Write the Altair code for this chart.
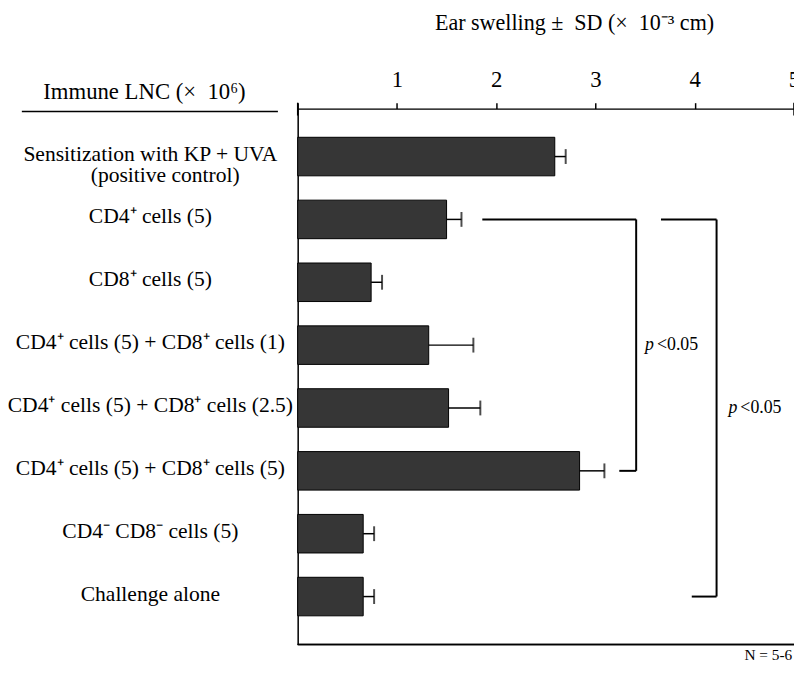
import altair as alt
import pandas as pd

# ---- data ----
labels = [
    "Sensitization with KP + UVA",
    "CD4⁺ cells (5)",
    "CD8⁺ cells (5)",
    "CD4⁺ cells (5) + CD8⁺ cells (1)",
    "CD4⁺ cells (5) + CD8⁺ cells (2.5)",
    "CD4⁺ cells (5) + CD8⁺ cells (5)",
    "CD4⁻ CD8⁻ cells (5)",
    "Challenge alone",
]
notes = ["(positive control)", "", "", "", "", "", "", ""]
means = [2.59, 1.50, 0.74, 1.32, 1.52, 2.84, 0.66, 0.66]
sds = [0.11, 0.15, 0.11, 0.45, 0.32, 0.25, 0.11, 0.11]
tick_values = [0, 1, 2, 3, 4, 5]

# significance brackets (axis units, category rows)
br_x = [1.86, 3.41, 3.24, 3.66, 4.22, 3.97]
br_x2 = [3.41, 3.41, 3.41, 4.22, 4.22, 4.22]
br_y = [labels[1], labels[1], labels[5], labels[1], labels[1], labels[7]]
br_y2 = [labels[1], labels[5], labels[5], labels[1], labels[7], labels[7]]

p_x = [3.50, 4.34]
p_y = [labels[3], labels[4]]

FONT = "Liberation Serif"
W, H = 502, 542
NB = "\u00a0"

df = pd.DataFrame({"label": labels, "note": notes, "mean": means, "sd": sds})
df["hi"] = df["mean"] + df["sd"]

yscale = alt.Scale(domain=labels, paddingInner=0.387, paddingOuter=0.456, align=0.5)
xscale = alt.Scale(domain=[0, 5], nice=False, zero=True)

xaxis = alt.Axis(orient="top", values=tick_values, format="d",
                 labelExpr="datum.value == 0 ? '' : datum.label",
                 tickSize=6, tickWidth=1.5, tickColor="black", domainColor="black", domainWidth=1.5,
                 labelFont=FONT, labelFontSize=23, labelColor="black", labelPadding=11,
                 labelFlush=False, labelOverlap=False, grid=False, title=None)
yaxis = alt.Axis(labels=False, ticks=False, title=None, domainColor="black", domainWidth=1.5, grid=False)

base = alt.Chart(df)

bars = base.mark_bar(fill="#363636", stroke="black", strokeWidth=1).encode(
    x=alt.X("mean:Q", scale=xscale, axis=xaxis),
    y=alt.Y("label:N", scale=yscale, axis=yaxis, sort=labels),
)

err = base.mark_rule(color="black", strokeWidth=1.5).encode(
    x="mean:Q", x2="hi:Q", y=alt.Y("label:N", sort=labels)
)
caps = base.mark_tick(color="black", thickness=2, size=15).encode(
    x="hi:Q", y=alt.Y("label:N", sort=labels)
)

cat_text = base.mark_text(font=FONT, fontSize=21.8, align="center", baseline="middle", color="black", dy=-3).encode(
    x=alt.value(-149), y=alt.Y("label:N", sort=labels), text="label:N"
)
note_text = base.mark_text(font=FONT, fontSize=21.8, align="center", baseline="middle", color="black", dy=19).encode(
    x=alt.value(-134), y=alt.Y("label:N", sort=labels), text="note:N"
)

br_df = pd.DataFrame({"x": br_x, "x2": br_x2, "y": br_y, "y2": br_y2})
brackets = alt.Chart(br_df).mark_rule(color="black", strokeWidth=2).encode(
    x="x:Q", x2="x2:Q", y=alt.Y("y:N", sort=labels), y2="y2:N"
)

p_df = pd.DataFrame({"x": p_x, "y": p_y})
p_italic = alt.Chart(p_df).mark_text(font=FONT, fontSize=18, fontStyle="italic", align="left",
                                     baseline="middle", color="black").encode(
    x="x:Q", y=alt.Y("y:N", sort=labels), text=alt.value("p")
)
p_rest = alt.Chart(p_df).mark_text(font=FONT, fontSize=18, align="left", baseline="middle",
                                   color="black", dx=12).encode(
    x="x:Q", y=alt.Y("y:N", sort=labels), text=alt.value("<0.05")
)

frame_df = pd.DataFrame({"v": [0, 5]})
end_ticks = alt.Chart(frame_df).mark_rule(color="black", strokeWidth=1.5).encode(
    x="v:Q", y=alt.value(-6), y2=alt.value(7)
)
bottom_line = alt.Chart(frame_df).mark_rule(color="black", strokeWidth=1.5).encode(
    x=alt.value(0), x2=alt.value(W), y=alt.value(H)
)

ann = pd.DataFrame({"t": ["Ear swelling ±" + NB + " SD (×" + NB + " 10⁻³ cm)"]})
title_txt = alt.Chart(ann).mark_text(font=FONT, fontSize=22.3, align="center", baseline="middle",
                                     color="black").encode(
    x=alt.value(280), y=alt.value(-87), text="t:N"
)
hdr = pd.DataFrame({"t": ["Immune LNC (×" + NB + " 10⁶)"]})
hdr_txt = alt.Chart(hdr).mark_text(font=FONT, fontSize=23, align="center", baseline="middle",
                                   color="black").encode(
    x=alt.value(-155), y=alt.value(-17), text="t:N"
)
hdr_line = alt.Chart(hdr).mark_rule(color="black", strokeWidth=1.5).encode(
    x=alt.value(-279), x2=alt.value(-20), y=alt.value(3)
)
n_df = pd.DataFrame({"t": ["N = 5-6"]})
n_txt = alt.Chart(n_df).mark_text(font=FONT, fontSize=15.5, align="center", baseline="middle",
                                  color="black").encode(
    x=alt.value(476), y=alt.value(553), text="t:N"
)

chart = alt.layer(
    bars, err, caps, cat_text, note_text, brackets, p_italic, p_rest,
    end_ticks, bottom_line, title_txt, hdr_txt, hdr_line, n_txt
).properties(
    width=W, height=H,
    autosize=alt.AutoSizeParams(type="none"),
    padding={"left": 293, "top": 98, "right": 0, "bottom": 20},
).configure_view(stroke=None).configure(background="white")

chart.save("out.html", embed_options={"renderer": "svg", "actions": False})
